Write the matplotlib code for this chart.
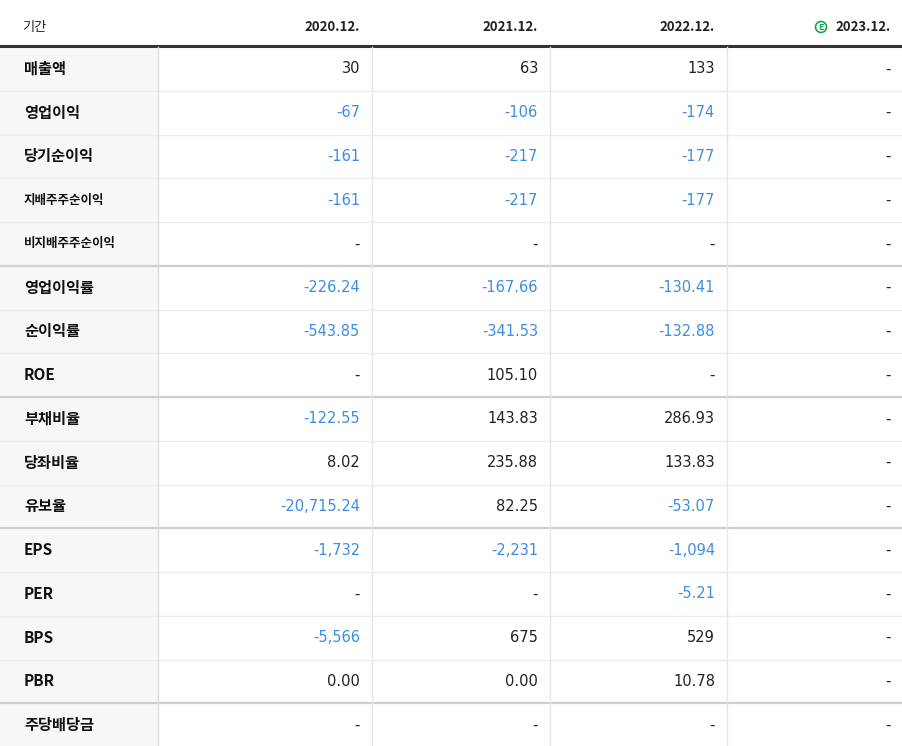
import matplotlib
matplotlib.use("Agg")
import matplotlib.pyplot as plt
from matplotlib.patches import Rectangle, Circle
from matplotlib import font_manager

# pick whichever CJK family is actually registered
_names = {f.name for f in font_manager.fontManager.ttflist}
cjk = [n for n in ["Noto Sans CJK KR", "Noto Sans CJK JP", "Noto Sans CJK SC",
                   "Noto Sans CJK TC"] if n in _names]
plt.rcParams["font.family"] = cjk + ["DejaVu Sans"]

periods = ["2020.12.", "2021.12.", "2022.12.", "2023.12."]
row_labels = ["매출액", "영업이익", "당기순이익", "지배주주순이익", "비지배주주순이익",
              "영업이익률", "순이익률", "ROE",
              "부채비율", "당좌비율", "유보율",
              "EPS", "PER", "BPS", "PBR", "주당배당금"]
values = [
    ["30", "63", "133", "-"],
    ["-67", "-106", "-174", "-"],
    ["-161", "-217", "-177", "-"],
    ["-161", "-217", "-177", "-"],
    ["-", "-", "-", "-"],
    ["-226.24", "-167.66", "-130.41", "-"],
    ["-543.85", "-341.53", "-132.88", "-"],
    ["-", "105.10", "-", "-"],
    ["-122.55", "143.83", "286.93", "-"],
    ["8.02", "235.88", "133.83", "-"],
    ["-20,715.24", "82.25", "-53.07", "-"],
    ["-1,732", "-2,231", "-1,094", "-"],
    ["-", "-", "-5.21", "-"],
    ["-5,566", "675", "529", "-"],
    ["0.00", "0.00", "10.78", "-"],
    ["-", "-", "-", "-"],
]
group_ends = [4, 7, 10, 14]  # rows after which a darker separator is drawn
small_labels = {"지배주주순이익", "비지배주주순이익"}

W, H = 903, 746
col_edges = [0, 158, 372, 550, 727, 903]
header_h = 46
row_h = (H - header_h) / len(row_labels)
blue = "#3d8ee0"

fig = plt.figure(figsize=(W / 100, H / 100), dpi=100)
ax = fig.add_axes([0, 0, 1, 1])
ax.set_xlim(0, W)
ax.set_ylim(H, 0)
ax.axis("off")

# header
hy = header_h / 2 + 4
ax.text(22, hy, "기간", fontsize=9.5, va="center", ha="left", color="#222")
for j, p in enumerate(periods):
    x = col_edges[j + 2] - 12
    ax.text(x, hy, p, fontsize=9.5, fontweight="bold", va="center",
            ha="right", color="#222")
# estimate marker before last period
ex = col_edges[5] - 82
ax.add_patch(Circle((ex, hy), 5.5, fill=False, ec="#1aa550", lw=1.2))
ax.text(ex, hy, "E", fontsize=6.5, color="#1aa550", va="center", ha="center",
        fontweight="bold")
ax.plot([0, W], [header_h, header_h], color="#333", lw=2.2)

for i, (lab, vals) in enumerate(zip(row_labels, values)):
    y0 = header_h + 1 + i * row_h
    ax.add_patch(Rectangle((0, y0), col_edges[1], row_h, color="#f7f7f7", lw=0))
    yc = y0 + row_h / 2
    fs = 9 if lab in small_labels else 11
    ax.text(24, yc, lab, fontsize=fs, fontweight="bold", va="center", ha="left", color="#111")
    for j, v in enumerate(vals):
        col = blue if v.startswith("-") and v != "-" else "#222"
        ax.text(col_edges[j + 2] - 12, yc, v, fontsize=10.5, va="center", ha="right", color=col,
                fontfamily="DejaVu Sans")
    yb = y0 + row_h
    if i in group_ends:
        ax.plot([0, W], [yb, yb], color="#cfcfcf", lw=1.6)
    elif i < len(row_labels) - 1:
        ax.plot([0, W], [yb, yb], color="#ececec", lw=1)

for x in col_edges[1:5]:
    ax.plot([x, x], [header_h + 1, H], color="#e6e6e6" if x != col_edges[1] else "#dcdcdc", lw=1)

fig.savefig("out.png", dpi=100)
